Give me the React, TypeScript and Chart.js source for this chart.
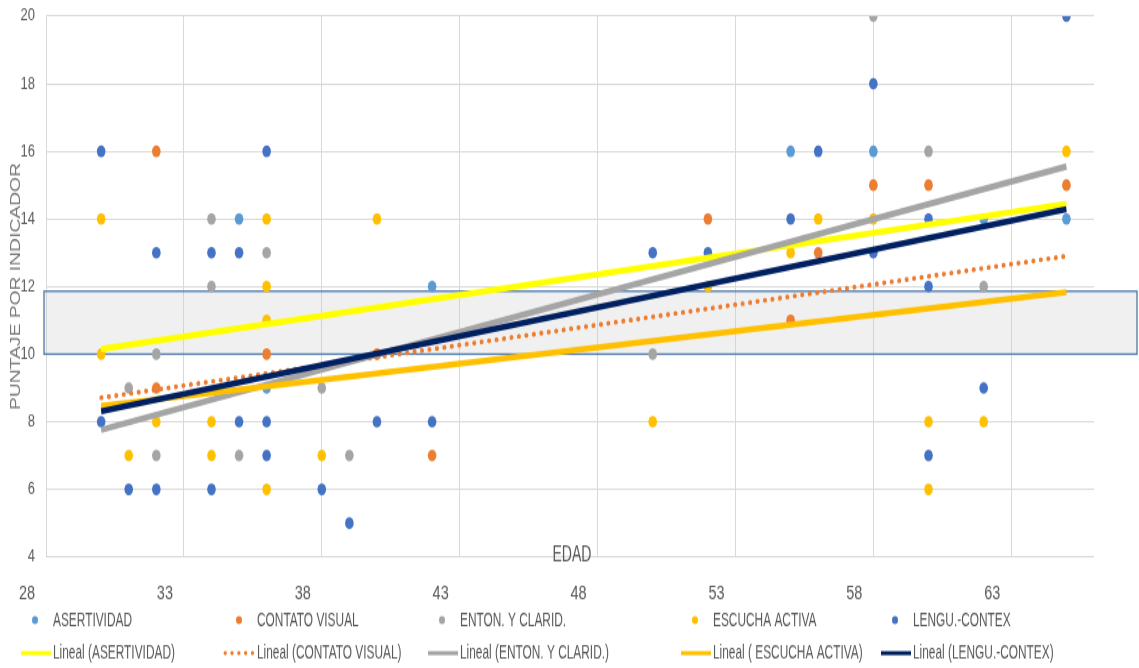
import React, { useEffect, useRef } from "react";
import { Chart, registerables } from "chart.js";

Chart.register(...registerables);

// ---------- data ----------
const xTickValues = [28, 33, 38, 43, 48, 53, 58, 63];
const yTickValues = [4, 6, 8, 10, 12, 14, 16, 18, 20];
const xRange = [28, 66];
const yRange = [4, 20];

const seriesNames = ["ASERTIVIDAD", "CONTATO VISUAL", "ENTON. Y CLARID.", "ESCUCHA ACTIVA", "LENGU.-CONTEX"];
const trendNames = [
  "Lineal (ASERTIVIDAD)",
  "Lineal (CONTATO VISUAL)",
  "Lineal (ENTON. Y CLARID.)",
  "Lineal ( ESCUCHA ACTIVA)",
  "Lineal (LENGU.-CONTEX)",
];
const xTitle = "EDAD";
const yTitle = "PUNTAJE POR INDICADOR";

const asertAge = [35, 36, 42, 55, 58, 62, 65];
const asertScore = [14, 9, 12, 16, 16, 14, 14];

const contatoAge = [32, 32, 36, 40, 42, 52, 55, 56, 58, 60, 65];
const contatoScore = [16, 9, 10, 10, 7, 14, 11, 13, 15, 15, 15];

const entonAge = [31, 32, 32, 34, 34, 35, 36, 38, 39, 50, 58, 60, 62];
const entonScore = [9, 10, 7, 14, 12, 7, 13, 9, 7, 10, 20, 16, 12];

const escuchaAge = [30, 30, 31, 32, 34, 34, 36, 36, 36, 36, 38, 40, 50, 52, 55, 56, 58, 60, 60, 62, 65];
const escuchaScore = [14, 10, 7, 8, 8, 7, 14, 12, 11, 6, 7, 14, 8, 12, 13, 14, 14, 8, 6, 8, 16];

const lenguAge = [30, 30, 31, 32, 32, 34, 34, 35, 35, 36, 36, 36, 38, 39, 40, 42, 50, 52, 55, 56, 58, 58, 60, 60, 60, 62, 65];
const lenguScore = [16, 8, 6, 13, 6, 13, 6, 13, 8, 16, 8, 7, 6, 5, 8, 8, 13, 13, 14, 16, 18, 13, 14, 12, 7, 9, 20];

// trend lines (value at first and last age)
const trendAges = [30, 65];
const trendAsert = [10.15, 14.45];
const trendContato = [8.71, 12.9];
const trendEnton = [7.76, 15.55];
const trendEscucha = [8.47, 11.83];
const trendLengu = [8.31, 14.29];

// highlighted band
const bandRange = [10, 11.86];

// ---------- styles ----------
const pointColors = ["#5B9BD5", "#ED7D31", "#A5A5A5", "#FFC000", "#4472C4"];
const trendColors = ["#FFFF00", "#ED7D31", "#A5A5A5", "#FFC000", "#002060"];
const TEXT = "#595959";
const FONT = '"Liberation Sans", Arial, sans-serif';

const W = 1139;
const H = 495; // internal height, stretched to 668 via CSS

const zip = (xs: number[], ys: number[]) => xs.map((x, i) => ({ x, y: ys[i] }));

// draw text squeezed horizontally (condensed look)
function squeezedText(ctx: any, text: string, x: number, y: number, k: number) {
  ctx.save();
  ctx.translate(x, y);
  ctx.scale(k, 1);
  ctx.fillText(text, 0, 0);
  ctx.restore();
}

const bandPlugin = {
  id: "band",
  beforeDatasetsDraw(chart: any) {
    const { ctx, chartArea, scales } = chart;
    const yTop = scales.y.getPixelForValue(bandRange[1]);
    const yBot = scales.y.getPixelForValue(bandRange[0]);
    const left = chartArea.left - 2;
    const right = chart.width - 2;
    ctx.save();
    ctx.fillStyle = "rgba(200,200,200,0.27)";
    ctx.fillRect(left, yTop, right - left, yBot - yTop);
    ctx.strokeStyle = "#4E78A8";
    ctx.lineWidth = 1.3;
    ctx.strokeRect(left, yTop, right - left, yBot - yTop);
    ctx.restore();
  },
};

const textPlugin = {
  id: "texts",
  afterDraw(chart: any) {
    const { ctx, chartArea } = chart;
    ctx.save();
    // y axis title
    ctx.save();
    ctx.font = `15px ${FONT}`;
    const yw = ctx.measureText(yTitle).width;
    ctx.translate(16, (chartArea.top + chartArea.bottom) / 2);
    ctx.rotate(-Math.PI / 2);
    ctx.scale(183 / yw, 1);
    ctx.fillStyle = "#767676";
    ctx.textAlign = "center";
    ctx.textBaseline = "middle";
    ctx.fillText(yTitle, 0, 0);
    ctx.restore();

    // x axis title
    ctx.fillStyle = TEXT;
    ctx.font = `17px ${FONT}`;
    ctx.textAlign = "center";
    ctx.textBaseline = "middle";
    const ew = ctx.measureText(xTitle).width;
    squeezedText(ctx, xTitle, 572, chartArea.bottom - 1.5, 39 / ew);

    // legend
    const cols = [53, 257, 460, 713, 913];
    const rowY = [459.5, 484];
    const ds = chart.data.datasets;
    ctx.font = `15.5px ${FONT}`;
    ctx.textAlign = "left";
    const k = 79 / ctx.measureText(seriesNames[0]).width;
    for (let i = 0; i < 5; i++) {
      const p = ds[i];
      const t = ds[i + 5];
      const cx = cols[i];
      // marker
      ctx.fillStyle = p.pointBackgroundColor;
      ctx.beginPath();
      ctx.arc(cx - 18, rowY[0], 3, 0, Math.PI * 2);
      ctx.fill();
      ctx.fillStyle = TEXT;
      squeezedText(ctx, p.label, cx, rowY[0], k);
      // line sample
      ctx.save();
      const dotted = t.borderDash && t.borderDash.length;
      ctx.strokeStyle = t.borderColor;
      ctx.lineWidth = dotted ? 2.8 : 3;
      ctx.lineCap = dotted ? "round" : "butt";
      ctx.setLineDash(dotted ? [0.5, 6.3] : []);
      ctx.beginPath();
      ctx.moveTo(cx - 32, rowY[1]);
      ctx.lineTo(cx - 2, rowY[1]);
      ctx.stroke();
      ctx.restore();
      ctx.fillStyle = TEXT;
      squeezedText(ctx, t.label, cx, rowY[1], k);
    }
    ctx.restore();
  },
};

export default function App() {
  const ref = useRef<HTMLCanvasElement>(null);

  useEffect(() => {
    document.body.style.margin = "0";
    const canvas = ref.current;
    if (!canvas) return;

    const pointSets = [
      zip(asertAge, asertScore),
      zip(contatoAge, contatoScore),
      zip(entonAge, entonScore),
      zip(escuchaAge, escuchaScore),
      zip(lenguAge, lenguScore),
    ];
    const trendSets = [trendAsert, trendContato, trendEnton, trendEscucha, trendLengu].map((v) => zip(trendAges, v));

    const datasets: any[] = [];
    pointSets.forEach((data, i) => {
      datasets.push({
        label: seriesNames[i],
        data,
        showLine: false,
        pointRadius: 4.3,
        pointHoverRadius: 4.3,
        pointBorderWidth: 0,
        pointBackgroundColor: pointColors[i],
        pointBorderColor: pointColors[i],
        backgroundColor: pointColors[i],
        order: 20 - i,
      });
    });
    trendSets.forEach((data, i) => {
      const dotted = i === 1;
      datasets.push({
        label: trendNames[i],
        data,
        showLine: true,
        pointRadius: 0,
        pointHoverRadius: 0,
        borderColor: trendColors[i],
        backgroundColor: trendColors[i],
        borderWidth: dotted ? 3.6 : 4.6,
        borderDash: dotted ? [0.5, 7] : [],
        borderCapStyle: dotted ? "round" : "butt",
        order: 10 - i,
      });
    });

    const chart = new Chart(canvas, {
      type: "scatter",
      data: { datasets },
      options: {
        animation: false,
        responsive: false,
        devicePixelRatio: 1,
        events: [],
        layout: { padding: { left: 0, right: W - 1094, top: 11.9, bottom: 37.3 } },
        plugins: {
          legend: { display: false },
          tooltip: { enabled: false },
          title: { display: false },
        },
        scales: {
          x: {
            type: "linear",
            min: xRange[0],
            max: xRange[1],
            afterBuildTicks: (s: any) => {
              s.ticks = xTickValues.map((v) => ({ value: v }));
            },
            afterFit: (s: any) => {
              s.height = 45;
              s.paddingLeft = 0;
              s.paddingRight = 0;
            },
            grid: { color: "#D9D9D9", lineWidth: 1, drawTicks: false },
            border: { display: false },
            ticks: {
              padding: 19,
              labelOffset: -19,
              color: TEXT,
              font: { family: FONT, size: 14.5 },
              maxRotation: 0,
              autoSkip: false,
            },
          },
          y: {
            type: "linear",
            min: yRange[0],
            max: yRange[1],
            afterBuildTicks: (s: any) => {
              s.ticks = yTickValues.map((v) => ({ value: v }));
            },
            afterFit: (s: any) => {
              s.width = 46;
              s.paddingTop = 0;
              s.paddingBottom = 0;
            },
            grid: { color: "#D9D9D9", lineWidth: 1, drawTicks: false },
            border: { display: false },
            ticks: {
              padding: 11,
              color: TEXT,
              font: { family: FONT, size: 13 },
              autoSkip: false,
            },
          },
        },
      } as any,
      plugins: [bandPlugin, textPlugin],
    });

    return () => chart.destroy();
  }, []);

  return (
    <div style={{ position: "absolute", left: 0, top: 0, width: W, height: 668, background: "#fff" }}>
      <canvas
        ref={ref}
        width={W}
        height={H}
        style={{ width: `${W}px`, height: "668px", display: "block" }}
      />
    </div>
  );
}
